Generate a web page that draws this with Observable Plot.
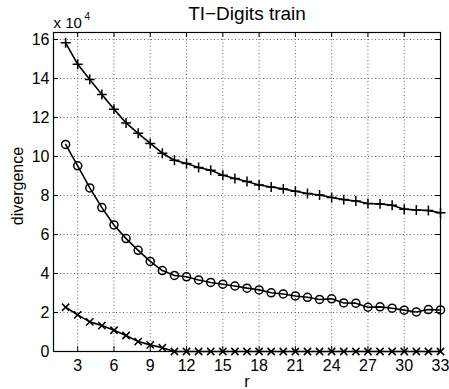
<!DOCTYPE html>
<html>
<head>
<meta charset="utf-8">
<script src="https://cdn.jsdelivr.net/npm/d3@7"></script>
<script src="https://cdn.jsdelivr.net/npm/@observablehq/plot@0.6"></script>
<style>
  html, body { margin: 0; padding: 0; background: #fff; }
</style>
</head>
<body>
<div id="chart"></div>
<script>
const rValues = d3.range(2, 34);
// divergence values in units of 1e4
const plusVals = [15.83, 14.73, 13.95, 13.18, 12.43, 11.72, 11.19, 10.67, 10.17, 9.81, 9.64, 9.44, 9.30, 9.04, 8.87, 8.72,
  8.54, 8.44, 8.34, 8.22, 8.10, 8.03, 7.90, 7.79, 7.72, 7.59, 7.57, 7.50, 7.30, 7.26, 7.23, 7.11];
const circleVals = [10.62, 9.52, 8.39, 7.38, 6.49, 5.79, 5.19, 4.62, 4.15, 3.90, 3.83, 3.67, 3.54, 3.45, 3.36, 3.25,
  3.16, 3.01, 2.95, 2.85, 2.78, 2.67, 2.70, 2.49, 2.48, 2.27, 2.29, 2.22, 2.12, 2.03, 2.15, 2.13];
const crossVals = [2.27, 1.88, 1.52, 1.33, 1.09, 0.82, 0.51, 0.34, 0.19, 0, 0, 0, 0, 0, 0, 0,
  0, 0, 0, 0, 0, 0, 0, 0, 0, 0, 0, 0, 0, 0, 0, 0];
const xTicks = [3, 6, 9, 12, 15, 18, 21, 24, 27, 30, 33];
const yTicks = [0, 2, 4, 6, 8, 10, 12, 14, 16];
const titleText = "TI\u2212Digits train";
const xLabel = "r";
const yLabel = "divergence";

const W = 449, H = 389, mL = 53, mR = 9, mT = 32, mB = 38;
const plotW = W - mL - mR, plotH = H - mT - mB;

const mk = vals => rValues.map((r, i) => ({r, v: vals[i]}));
const plusData = mk(plusVals), circleData = mk(circleVals), crossData = mk(crossVals);

const lineOpts = {x: "r", y: "v", stroke: "black", strokeWidth: 1.6};
const dotOpts = {x: "r", y: "v", stroke: "black", strokeWidth: 1.5, fill: "none"};

const chart = Plot.plot({
  width: W, height: H,
  marginLeft: mL, marginRight: mR, marginTop: mT, marginBottom: mB,
  style: {fontFamily: "'Liberation Sans', Arial, sans-serif", fontSize: "16px", background: "#fff", color: "#000"},
  x: {domain: [1, 33], label: null},
  y: {domain: [0, 16.36], label: null},
  marks: [
    Plot.gridX(xTicks, {stroke: "#666", strokeOpacity: 1, strokeDasharray: "1,2.5", strokeWidth: 1}),
    Plot.gridY(yTicks, {stroke: "#666", strokeOpacity: 1, strokeDasharray: "1,2.5", strokeWidth: 1}),
    Plot.axisX(xTicks, {tickSize: 0, tickPadding: 8, label: null}),
    Plot.axisY(yTicks, {tickSize: 0, tickPadding: 4, label: null}),
    Plot.ruleX(xTicks, {stroke: "black", insetTop: plotH - 5}),
    Plot.ruleX(xTicks, {stroke: "black", insetBottom: plotH - 5}),
    Plot.ruleY(yTicks, {stroke: "black", insetRight: plotW - 5}),
    Plot.ruleY(yTicks, {stroke: "black", insetLeft: plotW - 5}),
    Plot.frame({stroke: "black", strokeWidth: 1.2}),
    Plot.line(plusData, lineOpts),
    Plot.line(circleData, lineOpts),
    Plot.line(crossData, lineOpts),
    Plot.dot(plusData, {...dotOpts, symbol: "plus", r: 3.3}),
    Plot.dot(circleData, {...dotOpts, symbol: "circle", r: 4}),
    Plot.dot(crossData, {...dotOpts, symbol: "times", r: 3.4}),
    Plot.text([titleText], {frameAnchor: "top", lineAnchor: "bottom", dy: -13, fontSize: 19}),
    Plot.text(["x 10"], {frameAnchor: "top-left", textAnchor: "start", lineAnchor: "bottom", dy: -5, dx: 0, fontSize: 15}),
    Plot.text(["4"], {frameAnchor: "top-left", textAnchor: "start", lineAnchor: "bottom", dy: -13, dx: 31, fontSize: 10}),
    Plot.text([yLabel], {frameAnchor: "left", textAnchor: "middle", lineAnchor: "middle", rotate: -90, dx: -36, dy: -6, fontSize: 16}),
    Plot.text([xLabel], {frameAnchor: "bottom", textAnchor: "middle", lineAnchor: "bottom", dy: 35, fontSize: 16})
  ]
});
document.getElementById("chart").appendChild(chart);
</script>
</body>
</html>
